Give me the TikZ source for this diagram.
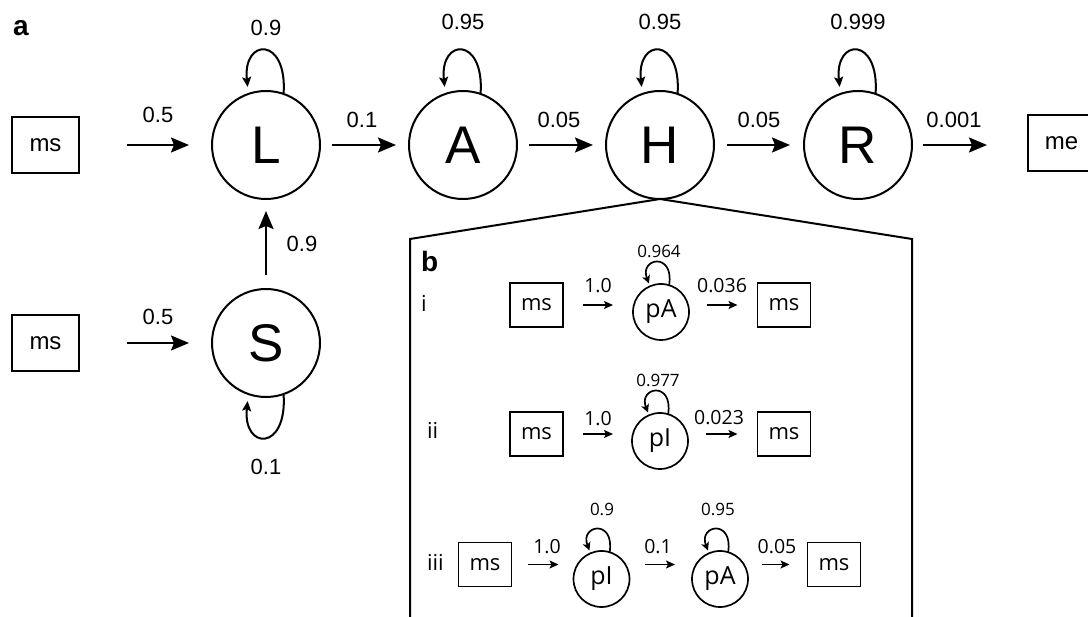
\documentclass[tikz,border=0pt]{standalone}
\usepackage{fontspec}
\setmainfont{Liberation Sans}
\newfontfamily\insetfont{Open Sans}
\usetikzlibrary{arrows.meta}

\begin{document}
\begin{tikzpicture}[x=1pt,y=-1pt,
  every node/.style={inner sep=0pt, outer sep=0pt},
  % panel a
  state/.style={draw, circle, line width=2pt, minimum size=108pt,
    font=\fontsize{53}{60}\selectfont},
  box/.style={draw, line width=2pt, minimum width=67pt, minimum height=56pt,
    font=\fontsize{24}{28}\selectfont},
  rate/.style={anchor=base, font=\fontsize{22}{26}\selectfont},
  flow/.style={line width=2pt, -{Stealth[length=18pt, width=15pt, inset=3pt]}},
  selfloop/.style={line width=2pt, -{Stealth[length=10pt, width=9pt, inset=2pt]}},
  panel/.style={anchor=base west, font=\fontsize{28}{32}\selectfont\bfseries},
  % panel b
  frame/.style={line width=2pt, line join=miter},
  sstate/.style={draw, circle, line width=1.7pt, minimum size=56pt,
    font=\insetfont\fontsize{25}{29}\selectfont},
  sbox/.style={draw, line width=1.7pt, minimum width=53pt, minimum height=44pt,
    font=\insetfont\fontsize{22}{26}\selectfont},
  srate/.style={anchor=base, font=\insetfont\fontsize{19.5}{23}\selectfont},
  sloopr/.style={anchor=base, font=\insetfont\fontsize{17}{21}\selectfont},
  sflow/.style={line width=1.7pt, -{Stealth[length=9pt, width=8pt, inset=2pt]}},
  sself/.style={line width=1.7pt, -{Stealth[length=8pt, width=8pt, inset=2pt]}},
  rowlab/.style={anchor=base west, font=\insetfont\fontsize{22}{26}\selectfont},
]
\useasboundingbox (0,0) rectangle (1088,617);

% ---------------- panel a ----------------
\node[panel] (pa) at (13,36) {a};

\node[box] (ms1) at (45.5,145) {ms};
\node[state] (L) at (266,145) {L};
\node[state] (A) at (463,145) {A};
\node[state] (H) at (660,145) {H};
\node[state] (R) at (858,145) {R};
\node[box] (me) at (1061.5,143) {me};

\node[box] (ms2) at (45.5,343) {ms};
\node[state] (S) at (266,343) {S};

% transitions along the main chain
\draw[flow, shorten <=48pt, shorten >=23pt] (ms1) -- (L);
\draw[flow, shorten <=12pt, shorten >=13pt] (L) -- (A);
\draw[flow, shorten <=12pt, shorten >=13pt] (A) -- (H);
\draw[flow, shorten <=13pt, shorten >=14pt] (H) -- (R);
\draw[flow, shorten <=11pt, shorten >=41pt] (R) -- (me.west |- R.east);
\draw[flow, shorten <=48pt, shorten >=23pt] (ms2) -- (S);
\draw[flow, shorten <=14pt, shorten >=12pt] (S) -- (L);

\node[rate] (t1) at (158,123) {0.5};
\node[rate] (t2) at (362,128) {0.1};
\node[rate] (t3) at (559,128) {0.05};
\node[rate] (t4) at (759,128) {0.05};
\node[rate] (t5) at (954,128) {0.001};
\node[rate] (t6) at (158,325) {0.5};
\node[rate] (t7) at (302,252) {0.9};

% self transitions
\foreach \n in {L,A,H,R}
  \draw[selfloop, shorten >=7pt] (\n.71) .. controls +(4,-58) and +(-6,-56) .. (\n.109);
\draw[selfloop, shorten >=7pt] (S.-71) .. controls +(4,58) and +(-6,56) .. (S.-109);

\node[rate] (sL) at (266,36) {0.9};
\node[rate] (sA) at (463,30) {0.95};
\node[rate] (sH) at (660,30) {0.95};
\node[rate] (sR) at (858,30) {0.999};
\node[rate] (sS) at (266,475) {0.1};

% ---------------- panel b ----------------
\coordinate (fl) at (410,239);
\coordinate (fr) at (912,239);
\coordinate (flb) at (410,620);
\coordinate (frb) at (912,620);
\draw[frame] (flb) -- (fl) -- (H.south) -- (fr) -- (frb);

\node[panel] (pb) at (421,272) {b};

\tikzset{sloop/.style={sself, shorten >=3pt}}

% row i
\node[rowlab] (ri) at (421,312) {i};
\node[sbox] (b1s) at (536.5,305) {ms};
\node[sstate] (b1a) at (661,312) {pA};
\node[sbox] (b1e) at (784,305) {ms};
\draw[sflow, shorten <=20pt, shorten >=20pt] (b1s.east) -- (b1s.east -| b1a.west);
\draw[sflow, shorten <=18pt, shorten >=20pt] (b1a.east |- b1e.west) -- (b1e.west);
\draw[sloop] (b1a.73) .. controls +(5,-34) and +(-11,-28) .. (b1a.113);
\node[srate] (b1r1) at (598,293) {1.0};
\node[srate] (b1r2) at (722,293) {0.036};
\node[sloopr] (b1l) at (659,258) {0.964};

% row ii
\node[rowlab] (rii) at (427,439) {ii};
\node[sbox] (b2s) at (536.5,434) {ms};
\node[sstate] (b2i) at (660,441) {pI};
\node[sbox] (b2e) at (784,434) {ms};
\draw[sflow, shorten <=20pt, shorten >=19pt] (b2s.east) -- (b2s.east -| b2i.west);
\draw[sflow, shorten <=18pt, shorten >=20pt] (b2i.east |- b2e.west) -- (b2e.west);
\draw[sloop] (b2i.73) .. controls +(5,-34) and +(-11,-28) .. (b2i.113);
\node[srate] (b2r1) at (598,426) {1.0};
\node[srate] (b2r2) at (719,425) {0.023};
\node[sloopr] (b2l) at (658,387) {0.977};

% row iii
\node[rowlab] (riii) at (427,571) {iii};
\node[sbox] (b3s) at (485,564.5) {ms};
\node[sstate] (b3i) at (601.5,579) {pI};
\node[sstate] (b3a) at (720,579) {pA};
\node[sbox] (b3e) at (834,564.5) {ms};
\draw[sflow, shorten <=16pt, shorten >=15pt] (b3s.east) -- (b3s.east -| b3i.west);
\draw[sflow, shorten <=15pt, shorten >=17pt] (b3i.east |- b3s.east) -- (b3a.west |- b3s.east);
\draw[sflow, shorten <=14pt, shorten >=18pt] (b3a.east |- b3e.west) -- (b3e.west);
\draw[sloop] (b3i.73) .. controls +(5,-34) and +(-11,-28) .. (b3i.113);
\draw[sloop] (b3a.73) .. controls +(5,-34) and +(-11,-28) .. (b3a.113);
\node[srate] (b3r1) at (547,554) {1.0};
\node[srate] (b3r2) at (658,554) {0.1};
\node[srate] (b3r3) at (777,554) {0.05};
\node[sloopr] (b3l1) at (602,516) {0.9};
\node[sloopr] (b3l2) at (718,516) {0.95};
\end{tikzpicture}
\end{document}
